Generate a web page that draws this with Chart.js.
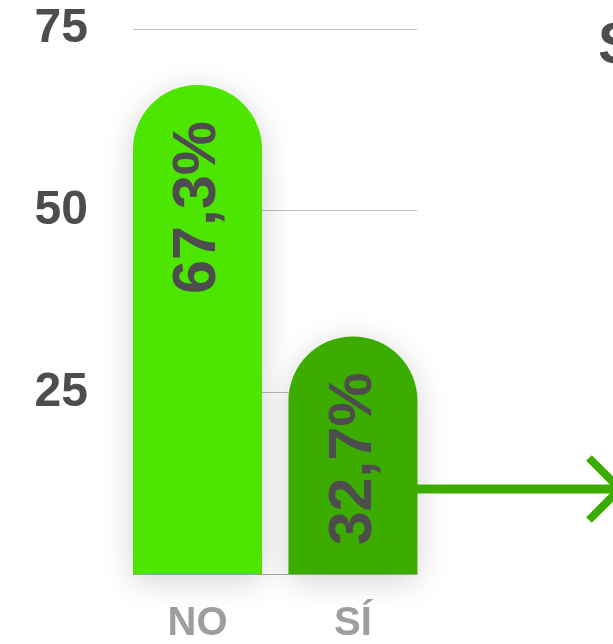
<!DOCTYPE html>
<html>
<head>
<meta charset="utf-8">
<script src="https://cdn.jsdelivr.net/npm/chart.js@4.4.1/dist/chart.umd.min.js"></script>
<style>
  html, body { margin: 0; padding: 0; background: #ffffff; }
  #wrap { width: 613px; height: 644px; position: relative; }
</style>
</head>
<body>
<div id="wrap"><canvas id="c"></canvas></div>
<script>
// ---- data ----
const categories = ["NO", "SÍ"];
const values = [67.3, 32.7];
const valueLabels = ["67,3%", "32,7%"];
const barColors = ["#4de600", "#3cad00"];
const yTickValues = [25, 50, 75];
const sideText = "S";

const FONT = "'Liberation Sans', Arial, Helvetica, sans-serif";

const decorPlugin = {
  id: 'decor',
  beforeDatasetsDraw(chart) {
    const ctx = chart.ctx;
    ctx.save();
    ctx.shadowColor = 'rgba(0,0,0,0.18)';
    ctx.shadowBlur = 32;
    ctx.shadowOffsetX = 0;
    ctx.shadowOffsetY = 6;
  },
  afterDatasetsDraw(chart) {
    const ctx = chart.ctx;
    ctx.restore();
    const meta = chart.getDatasetMeta(0);
    ctx.save();
    ctx.fillStyle = '#4d4d4d';
    ctx.font = "bold 61px " + FONT;
    ctx.textAlign = 'right';
    ctx.textBaseline = 'middle';
    meta.data.forEach((el, i) => {
      ctx.save();
      ctx.translate(el.x + 1, el.y + 36);
      ctx.rotate(-Math.PI / 2);
      ctx.fillText(valueLabels[i], 0, 0);
      ctx.restore();
    });
    ctx.restore();
  },
  afterDraw(chart) {
    const ctx = chart.ctx;
    const a = chart.chartArea;
    const y = a.bottom - 85;
    ctx.save();
    ctx.strokeStyle = '#3cad00';
    ctx.lineWidth = 9;
    ctx.beginPath();
    ctx.moveTo(a.right, y);
    ctx.lineTo(chart.width + 2, y);
    ctx.stroke();
    ctx.lineWidth = 8;
    ctx.beginPath();
    ctx.moveTo(589, y - 31);
    ctx.lineTo(620, y);
    ctx.lineTo(589, y + 31);
    ctx.stroke();
    ctx.fillStyle = '#4d4d4d';
    ctx.font = "bold 57px " + FONT;
    ctx.textAlign = 'left';
    ctx.textBaseline = 'alphabetic';
    ctx.fillText(sideText, 598, 63);
    ctx.restore();
  }
};

new Chart(document.getElementById('c'), {
  type: 'bar',
  data: {
    datasets: [{
      data: values.map((v, i) => ({ x: i, y: v })),
      backgroundColor: barColors,
      borderWidth: 0,
      borderRadius: { topLeft: 100, topRight: 100, bottomLeft: 0, bottomRight: 0 },
      borderSkipped: 'bottom',
      categoryPercentage: 1,
      barPercentage: 0.83,
      clip: false
    }]
  },
  options: {
    responsive: true,
    maintainAspectRatio: false,
    animation: false,
    devicePixelRatio: 1,
    layout: { padding: { left: 0, right: 196, top: 29, bottom: 0 } },
    plugins: { legend: { display: false }, tooltip: { enabled: false } },
    scales: {
      x: {
        type: 'linear',
        offset: false,
        min: -0.415,
        max: 1.412,
        grid: { display: false, drawTicks: false, offset: false },
        border: { display: true, color: '#aaaaaa', width: 1 },
        afterBuildTicks(scale) { scale.ticks = categories.map((c, i) => ({ value: i })); },
        afterFit(scale) {
          scale.height = 70;
          scale.paddingLeft = 0; scale.paddingRight = 0;
        },
        ticks: {
          padding: 26,
          maxRotation: 0,
          color: '#9e9e9e',
          font: { family: FONT, size: 40, weight: 'bold' },
          callback: (v) => categories[v] ?? ''
        }
      },
      y: {
        min: 0,
        max: 75,
        grid: { color: '#bdbdbd', lineWidth: 1, drawTicks: false },
        border: { display: false },
        afterBuildTicks(scale) { scale.ticks = yTickValues.map(v => ({ value: v })); },
        afterFit(scale) {
          scale.width = 133;
          scale.paddingTop = 0; scale.paddingBottom = 0;
        },
        ticks: {
          padding: 45,
          color: '#4d4d4d',
          font: { family: FONT, size: 48, weight: 'bold' }
        }
      }
    }
  },
  plugins: [decorPlugin]
});
</script>
</body>
</html>
